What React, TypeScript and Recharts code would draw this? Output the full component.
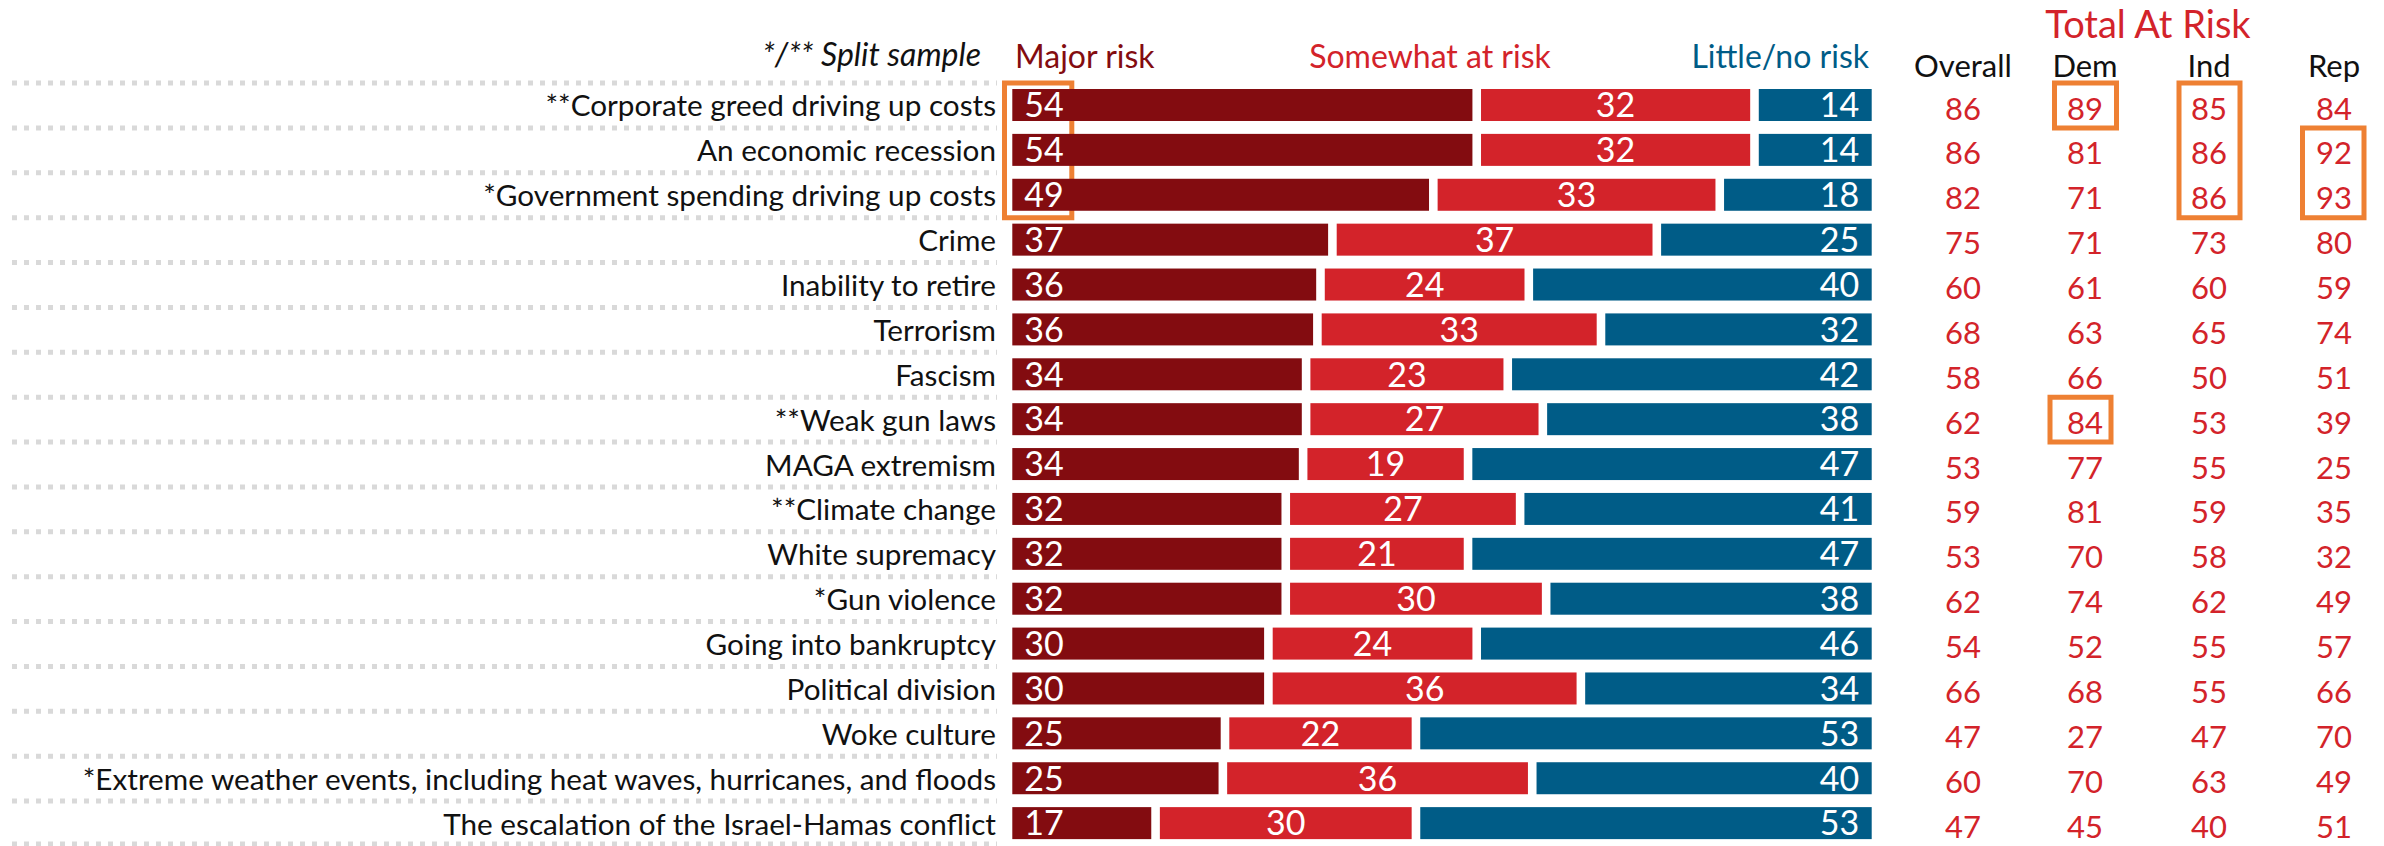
import React from 'react';
import { BarChart, Bar, XAxis, YAxis, LabelList, ReferenceArea, Customized } from 'recharts';

// ---------- data ----------
const categories = [
  '**Corporate greed driving up costs',
  'An economic recession',
  '*Government spending driving up costs',
  'Crime',
  'Inability to retire',
  'Terrorism',
  'Fascism',
  '**Weak gun laws',
  'MAGA extremism',
  '**Climate change',
  'White supremacy',
  '*Gun violence',
  'Going into bankruptcy',
  'Political division',
  'Woke culture',
  '*Extreme weather events, including heat waves, hurricanes, and floods',
  'The escalation of the Israel-Hamas conflict',
];
const majorRisk = [54, 54, 49, 37, 36, 36, 34, 34, 34, 32, 32, 32, 30, 30, 25, 25, 17];
const somewhatRisk = [32, 32, 33, 37, 24, 33, 23, 27, 19, 27, 21, 30, 24, 36, 22, 36, 30];
const littleRisk = [14, 14, 18, 25, 40, 32, 42, 38, 47, 41, 47, 38, 46, 34, 53, 40, 53];
const overallTotal = [86, 86, 82, 75, 60, 68, 58, 62, 53, 59, 53, 62, 54, 66, 47, 60, 47];
const demTotal = [89, 81, 71, 71, 61, 63, 66, 84, 77, 81, 70, 74, 52, 68, 27, 70, 45];
const indTotal = [85, 86, 86, 73, 60, 65, 50, 53, 55, 59, 58, 62, 55, 55, 47, 63, 40];
const repTotal = [84, 92, 93, 80, 59, 74, 51, 39, 25, 35, 32, 49, 57, 66, 70, 49, 51];

const seriesNames = ['Major risk', 'Somewhat at risk', 'Little/no risk'];
const tableTitle = 'Total At Risk';
const tableHeaders = ['Overall', 'Dem', 'Ind', 'Rep'];
const splitNote = '*/** Split sample';

// highlighted cells: column, first row, last row
const highlightCols = ['major', 'dem', 'ind', 'rep', 'dem'];
const highlightFrom = [0, 0, 0, 1, 7];
const highlightTo = [2, 0, 2, 2, 7];

const data = categories.map((label, i) => ({
  label,
  major: majorRisk[i],
  somewhat: somewhatRisk[i],
  little: littleRisk[i],
  overall: overallTotal[i],
  dem: demTotal[i],
  ind: indTotal[i],
  rep: repTotal[i],
}));

// ---------- layout / style ----------
const W = 2384;
const H = 846;
const M = { top: 83, right: 508, bottom: 0, left: 8 };
const YAXIS_W = 1000;
const PLOT_X0 = M.left + YAXIS_W;
const PLOT_W = W - M.left - M.right - YAXIS_W;
const ROW_PITCH = (H - M.top - M.bottom) / categories.length;
const GAP = 8.6;
const FONT = 'Lato, "Open Sans", sans-serif';

const C_MAJOR = '#830C10';
const C_SOME = '#D3232A';
const C_LITTLE = '#005C87';
const C_RED = '#D3232A';
const C_ORANGE = '#EE8033';
const C_DOTS = '#D9D9D9';

const COL_X: Record<string, number> = { overall: 1963, dem: 2085, ind: 2209, rep: 2334 };
const BOX_X: Record<string, [number, number]> = {
  major: [1004.5, 1071.8],
  dem: [2054.5, 2116.5],
  ind: [2179, 2240],
  rep: [2302.5, 2364],
};
const BOX_X_ALT: Record<string, [number, number]> = { dem: [2050, 2111] };
const toData = (px: number) => (px - PLOT_X0) / PLOT_W;

const InsetBar = (props: any) => {
  const { x, y, width, height, fill } = props;
  return <rect x={x + GAP / 2} y={y} width={Math.max(0, width - GAP)} height={height} fill={fill} />;
};

const LabelTick = (props: any) => {
  const { y, payload, index } = props;
  const last = index === categories.length - 1 || payload.value === categories[categories.length - 1];
  return (
    <g>
      <line x1={12} x2={997} y1={y - ROW_PITCH / 2} y2={y - ROW_PITCH / 2} stroke={C_DOTS} strokeWidth={5} strokeDasharray="5 7" />
      {last && (
        <line x1={12} x2={997} y1={y + ROW_PITCH / 2 - 2} y2={y + ROW_PITCH / 2 - 2} stroke={C_DOTS} strokeWidth={5} strokeDasharray="5 7" />
      )}
      <text x={996} y={y} dy={11} textAnchor="end" fontFamily={FONT} fontSize={29.7} fill="#111">
        {payload.value}
      </text>
    </g>
  );
};

const barNum = (anchor: 'start' | 'middle' | 'end') => (p: any) => {
  const { x, y, width, height, value } = p;
  const cx = anchor === 'start' ? x + GAP / 2 + 12 : anchor === 'end' ? x + width - GAP / 2 - 12.5 : x + width / 2;
  return (
    <text x={cx} y={y + height / 2} dy={12.3} textAnchor={anchor} fontFamily={FONT} fontSize={34} fill="#fff">
      {value}
    </text>
  );
};

const tableNum = (col: string) => (p: any) => {
  const { y, height, value } = p;
  return (
    <text x={COL_X[col]} y={y + height / 2} dy={14.5} textAnchor="middle" fontFamily={FONT} fontSize={31} fill={C_RED}>
      {value}
    </text>
  );
};

const Headers = () => (
  <g fontFamily={FONT}>
    <text x={981} y={66} textAnchor="end" fontSize={32} fontStyle="italic" fill="#111">{splitNote}</text>
    <text x={1015} y={68} textAnchor="start" fontSize={32} fill={C_MAJOR}>{seriesNames[0]}</text>
    <text x={1430} y={68} textAnchor="middle" fontSize={32} fill={C_SOME}>{seriesNames[1]}</text>
    <text x={1869} y={68} textAnchor="end" fontSize={32} fill={C_LITTLE}>{seriesNames[2]}</text>
    <text x={2148} y={38} textAnchor="middle" fontSize={38} fill={C_RED}>{tableTitle}</text>
    {['overall', 'dem', 'ind', 'rep'].map((k, i) => (
      <text key={k} x={COL_X[k]} y={77} textAnchor="middle" fontSize={31} fill="#111">{tableHeaders[i]}</text>
    ))}
  </g>
);

export default function App() {
  return (
    <div style={{ position: 'absolute', left: 0, top: 0, width: W, height: H, background: '#fff' }}>
      <BarChart
        width={W}
        height={H}
        data={data}
        layout="vertical"
        stackOffset="expand"
        margin={M}
        barSize={32}
      >
        <XAxis type="number" domain={[0, 1]} hide />
        <YAxis
          type="category"
          dataKey="label"
          width={YAXIS_W}
          axisLine={false}
          tickLine={false}
          interval={0}
          tick={<LabelTick />}
        />
        <Bar dataKey="major" stackId="a" fill={C_MAJOR} shape={InsetBar} isAnimationActive={false}>
          <LabelList dataKey="major" content={barNum('start')} />
        </Bar>
        <Bar dataKey="somewhat" stackId="a" fill={C_SOME} shape={InsetBar} isAnimationActive={false}>
          <LabelList dataKey="somewhat" content={barNum('middle')} />
        </Bar>
        <Bar dataKey="little" stackId="a" fill={C_LITTLE} shape={InsetBar} isAnimationActive={false}>
          <LabelList dataKey="little" content={barNum('end')} />
          <LabelList dataKey="overall" content={tableNum('overall')} />
          <LabelList dataKey="dem" content={tableNum('dem')} />
          <LabelList dataKey="ind" content={tableNum('ind')} />
          <LabelList dataKey="rep" content={tableNum('rep')} />
        </Bar>
        {highlightCols.map((col, i) => {
          const xs = i === 4 && BOX_X_ALT[col] ? BOX_X_ALT[col] : BOX_X[col];
          return (
            <ReferenceArea
              key={i}
              x1={toData(xs[0])}
              x2={toData(xs[1])}
              y1={categories[highlightFrom[i]]}
              y2={categories[highlightTo[i]]}
              fill="none"
              fillOpacity={0}
              stroke={C_ORANGE}
              strokeWidth={5}
              strokeOpacity={1}
              ifOverflow="visible"
            />
          );
        })}
        <Customized component={<Headers />} />
      </BarChart>
    </div>
  );
}
